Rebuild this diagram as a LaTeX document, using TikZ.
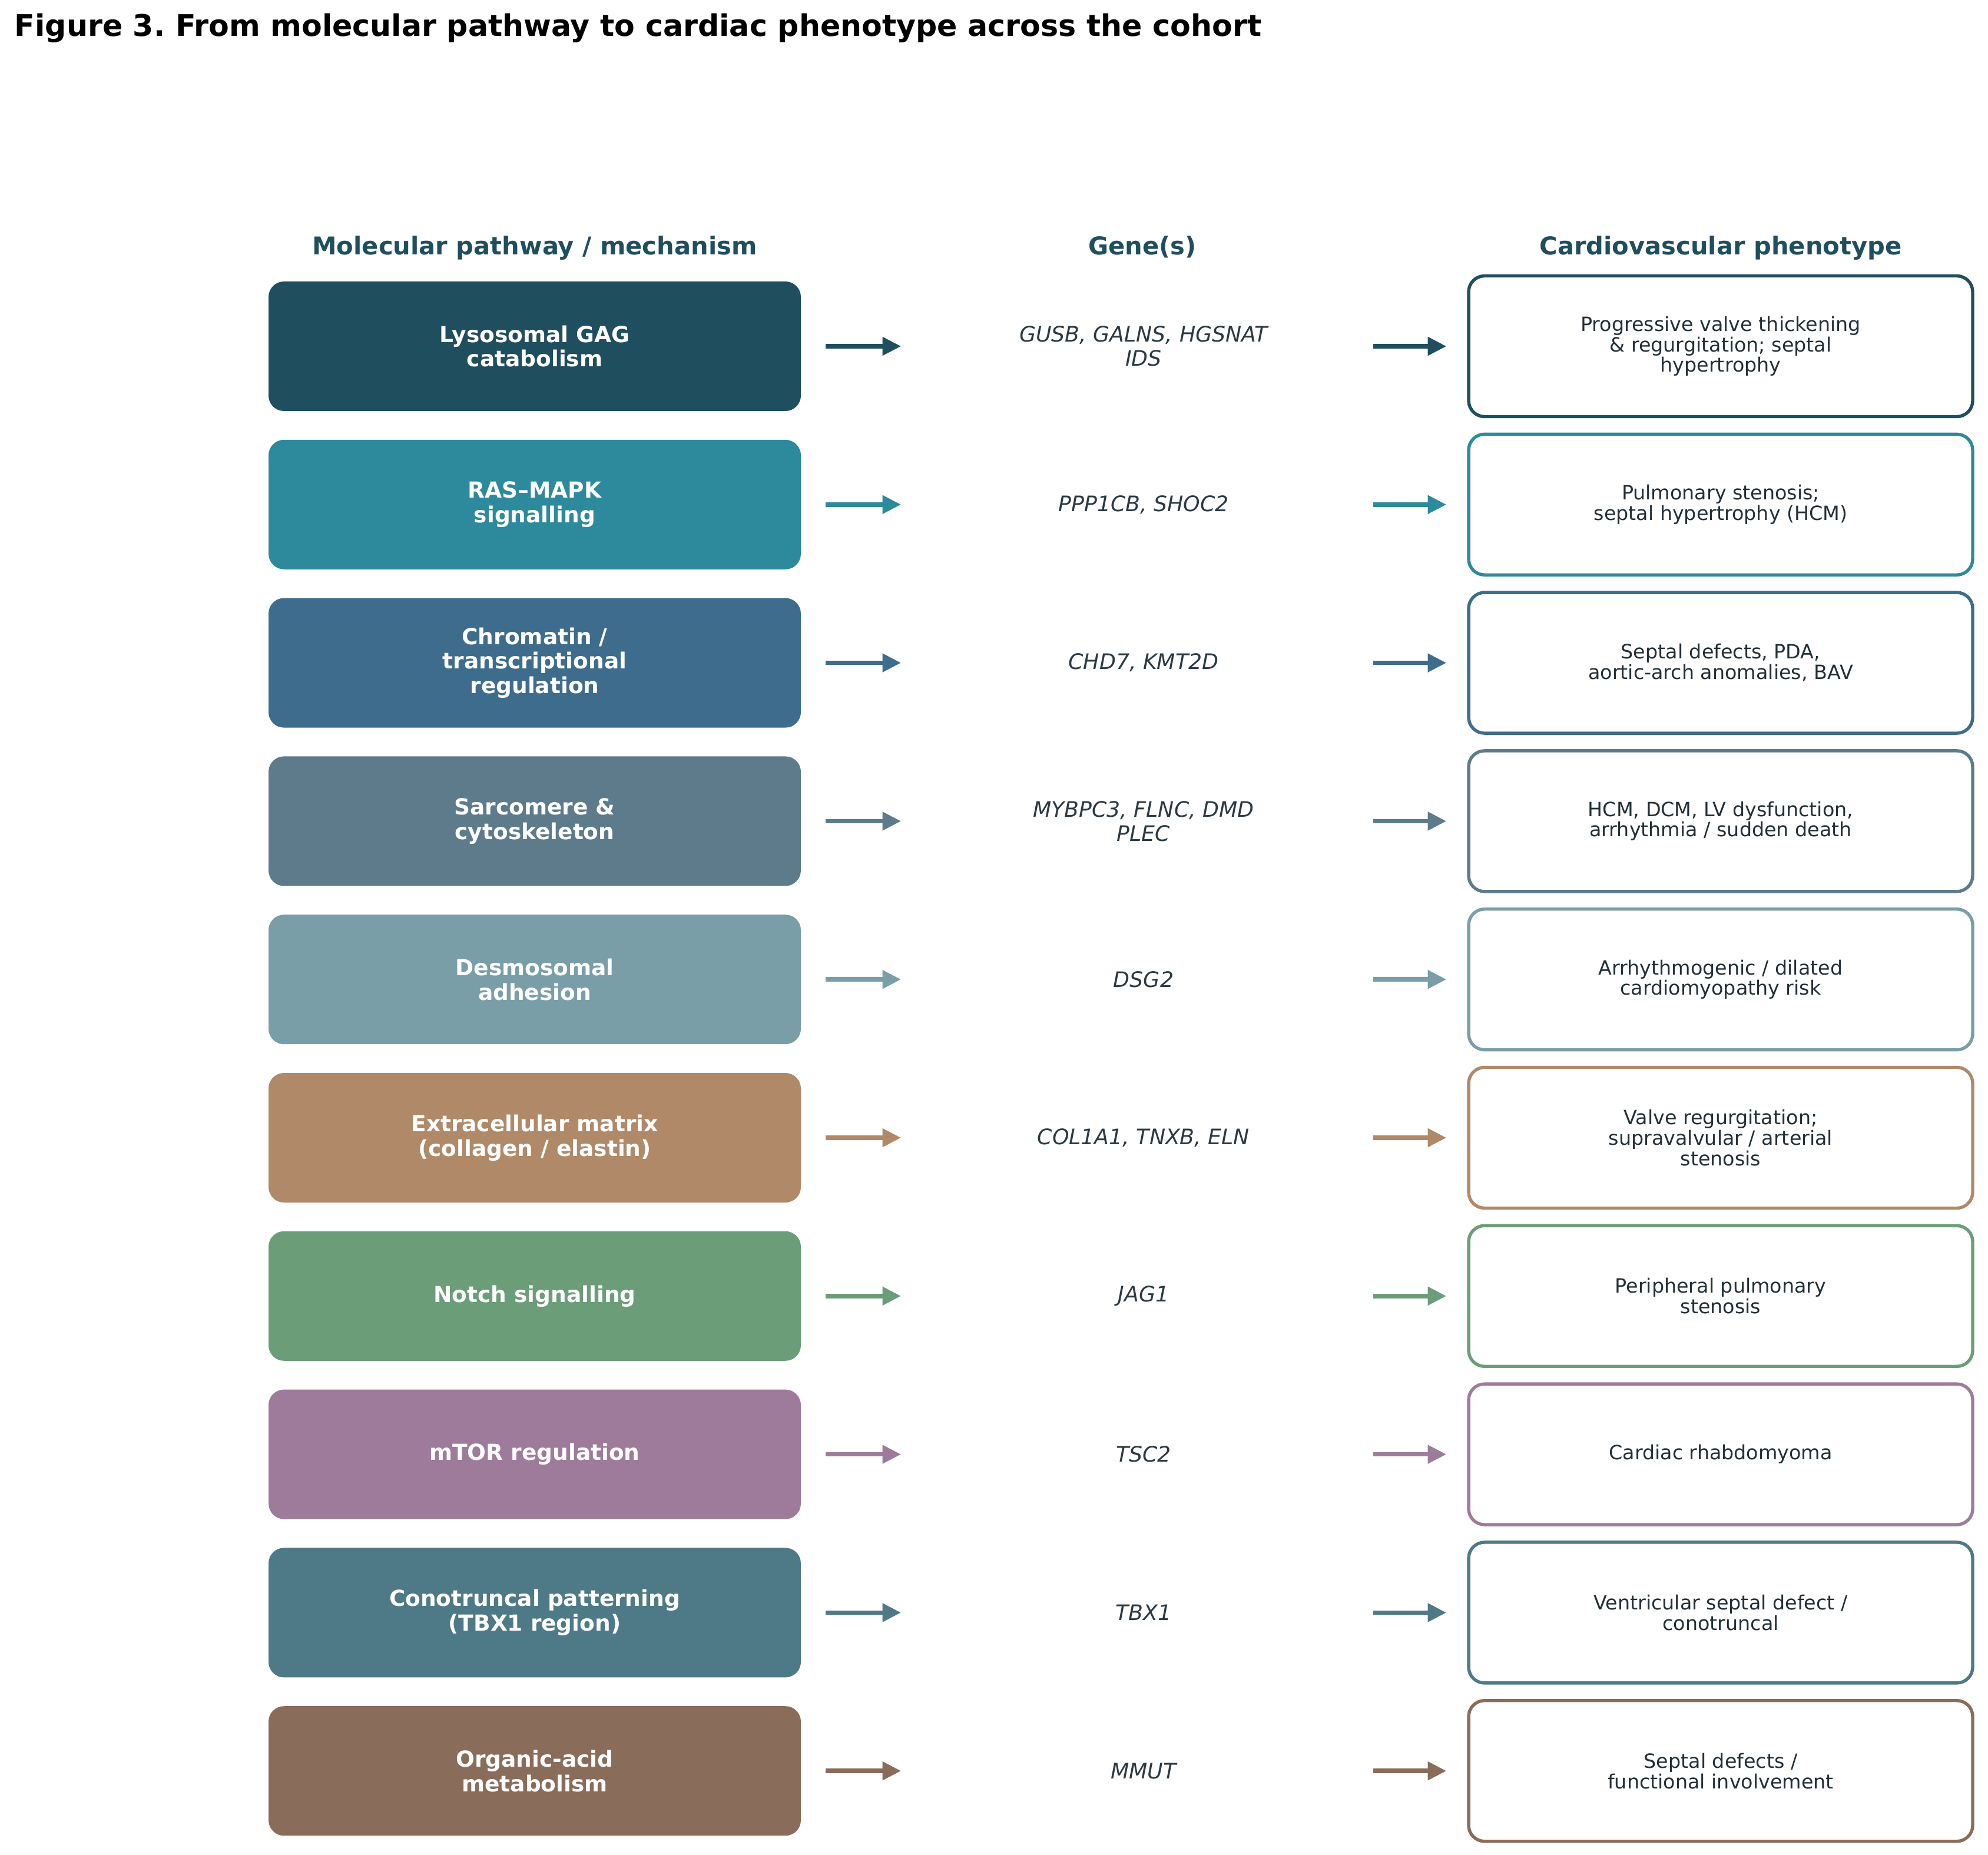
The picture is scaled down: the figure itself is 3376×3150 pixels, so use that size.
\documentclass[tikz,border=0pt]{standalone}
\usepackage{fontspec}
\setmainfont{DejaVu Sans}
\usetikzlibrary{arrows.meta}
\frenchspacing
\definecolor{c1}{HTML}{1F4E5F}
\definecolor{c2}{HTML}{2C8A9C}
\definecolor{c3}{HTML}{3E6C8C}
\definecolor{c4}{HTML}{5E7B8C}
\definecolor{c5}{HTML}{7A9EA7}
\definecolor{c6}{HTML}{B08968}
\definecolor{c7}{HTML}{6B9E78}
\definecolor{c8}{HTML}{9E7B9B}
\definecolor{c9}{HTML}{4E7986}
\definecolor{c10}{HTML}{8A6C5A}
\definecolor{genetxt}{HTML}{2B3A42}
\definecolor{phtxt}{HTML}{222F36}
\tikzset{
  leftbox/.style={rectangle, rounded corners=6.3pt, minimum width=216.96pt, minimum height=52.8pt,
    inner sep=0pt, align=center, text=white, font=\fontsize{9pt}{10pt}\selectfont\bfseries},
  genebox/.style={rectangle, minimum width=186.72pt, minimum height=20pt, inner sep=0pt, align=center,
    text=genetxt, font=\fontsize{8.7pt}{9.8pt}\selectfont\itshape},
  rightbox/.style={rectangle, rounded corners=6.5pt, minimum width=205.44pt, minimum height=57.36pt,
    inner sep=0pt, align=center, fill=white, line width=1.3pt, text=phtxt,
    font=\fontsize{8pt}{8.35pt}\selectfont},
  arr/.style={line width=1.85pt, -{Triangle[length=7.6pt,width=7.2pt]}},
  colhead/.style={anchor=base, text=c1, font=\fontsize{10pt}{12pt}\selectfont\bfseries},
}
\newcommand{\mkrow}[6]{%
  \node[leftbox, fill=#2] (L#1) at (908,#3) {#4};
  \node[genebox] (G#1) at (1942,#3) {#5};
  \node[rightbox, draw=#2] (R#1) at (2922,#3) {#6};
  \draw[arr, draw=#2, fill=#2, shorten <=9.84pt, shorten >=5.28pt] (L#1.east) -- (G#1.west);
  \draw[arr, draw=#2, fill=#2, shorten >=8.4pt] (G#1.east) -- (R#1.west);
}
\begin{document}
\begin{tikzpicture}[x=0.24pt,y=-0.24pt]
\useasboundingbox (0,0) rectangle (3376,3150);
\node[anchor=base west, inner sep=0pt, text=black, font=\fontsize{12.15pt}{14pt}\selectfont\bfseries] (title) at (24,62)
  {Figure 3. From molecular pathway to cardiac phenotype across the cohort};
\node[colhead] (h1) at (908,433) {Molecular pathway / mechanism};
\node[colhead] (h2) at (1940,433) {Gene(s)};
\node[colhead] (h3) at (2922,433) {Cardiovascular phenotype};
\mkrow{1}{c1}{588}{Lysosomal GAG\\catabolism}{GUSB, GALNS, HGSNAT\\IDS}{Progressive valve thickening\\\& regurgitation; septal\\hypertrophy}
\mkrow{2}{c2}{856.8}{RAS–MAPK\\signalling}{PPP1CB, SHOC2}{Pulmonary stenosis;\\septal hypertrophy (HCM)}
\mkrow{3}{c3}{1125.6}{Chromatin /\\transcriptional\\regulation}{CHD7, KMT2D}{Septal defects, PDA,\\aortic-arch anomalies, BAV}
\mkrow{4}{c4}{1394.4}{Sarcomere \&\\cytoskeleton}{MYBPC3, FLNC, DMD\\PLEC}{HCM, DCM, LV dysfunction,\\arrhythmia / sudden death}
\mkrow{5}{c5}{1663.2}{Desmosomal\\adhesion}{DSG2}{Arrhythmogenic / dilated\\cardiomyopathy risk}
\mkrow{6}{c6}{1932}{Extracellular matrix\\(collagen / elastin)}{COL1A1, TNXB, ELN}{Valve regurgitation;\\supravalvular / arterial\\stenosis}
\mkrow{7}{c7}{2200.8}{Notch signalling}{JAG1}{Peripheral pulmonary\\stenosis}
\mkrow{8}{c8}{2469.6}{mTOR regulation}{TSC2}{Cardiac rhabdomyoma}
\mkrow{9}{c9}{2738.4}{Conotruncal patterning\\(TBX1 region)}{TBX1}{Ventricular septal defect /\\conotruncal}
\mkrow{10}{c10}{3007.2}{Organic-acid\\metabolism}{MMUT}{Septal defects /\\functional involvement}
\end{tikzpicture}
\end{document}
